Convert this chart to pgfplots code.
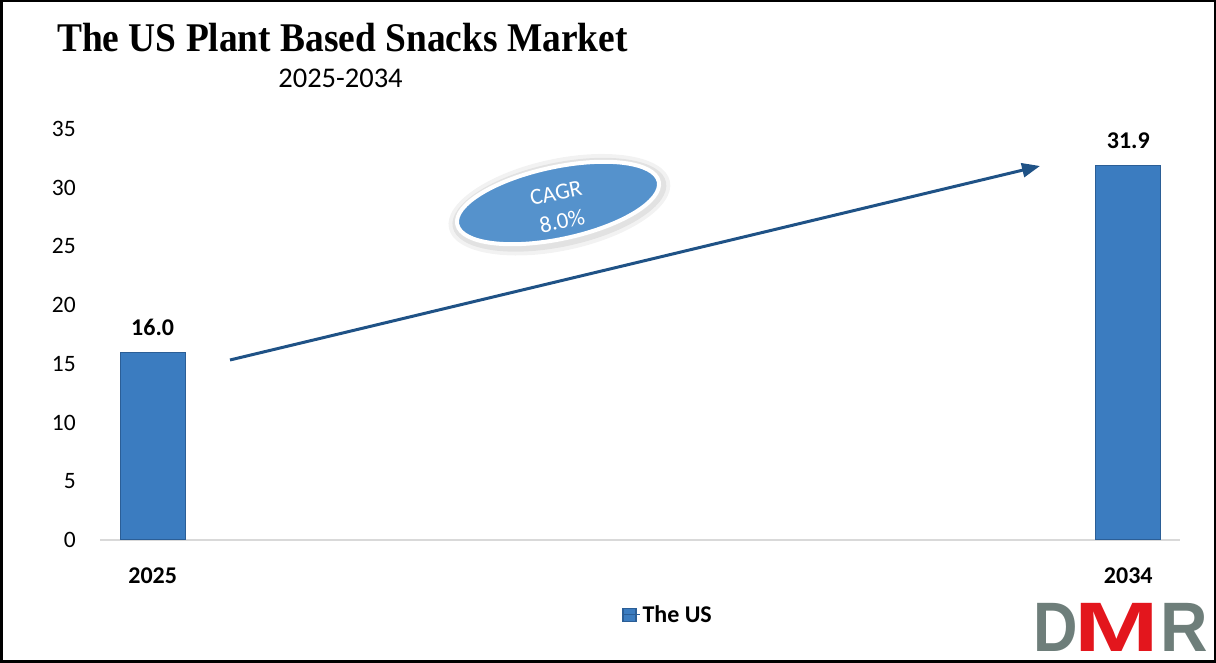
\documentclass[border=0pt]{standalone}
\usepackage{graphicx}
\usepackage{pgfplots}
\pgfplotsset{compat=1.18}
\usetikzlibrary{arrows.meta}
\usepackage{fontspec}
\setmainfont{Carlito}
\newfontfamily\titlefont{Liberation Serif}
\newfontfamily\logofont{Liberation Sans}

\definecolor{barblue}{HTML}{3B7CC0}
\definecolor{bardark}{HTML}{2B5E96}
\definecolor{arrowblue}{HTML}{1F5286}
\definecolor{ovalblue}{HTML}{5592CC}
\definecolor{axisgray}{HTML}{D9D9D9}
\definecolor{logogray}{HTML}{6E7E7A}
\definecolor{logored}{HTML}{E3161D}

\begin{document}
\begin{tikzpicture}[x=1pt,y=1pt]
\useasboundingbox (0,0) rectangle (1216,663);

% baseline of the x axis
\draw[axisgray, line width=1.5pt] (100,123) -- (1180,123);

\begin{axis}[
  at={(100pt,123pt)}, anchor=south west,
  scale only axis, width=1080pt, height=411pt,
  xmin=-0.054, xmax=1.053, ymin=0, ymax=35,
  ybar, bar width=65pt,
  xtick={0,1}, xticklabels={2025,2034},
  ytick={0,5,...,35},
  axis line style={draw=none},
  tick style={draw=none},
  /pgf/number format/assume math mode=true,
  ticklabel style={font=\fontsize{23.5}{28}\selectfont},
  yticklabel style={inner sep=0pt, anchor=east, xshift=-24pt},
  xticklabel style={inner sep=0pt, anchor=north, yshift=-23pt,
    font=\fontsize{24}{28}\selectfont\bfseries},
  nodes near coords,
  nodes near coords style={font=\fontsize{24}{28}\selectfont\bfseries,
    inner sep=0pt, anchor=south, yshift=16pt,
    /pgf/number format/.cd, fixed, precision=1, fixed zerofill},
  legend style={at={(0.526,-0.182)}, anchor=center, draw=none, fill=none,
    font=\fontsize{24}{28}\selectfont\bfseries},
  legend image code/.code={
    \draw[fill=barblue,draw=bardark] (0pt,-6.5pt) rectangle (13pt,6.5pt);
    \path (0pt,0pt) -- (17pt,0pt);},
]
\addplot[fill=barblue, draw=bardark, line width=1.2pt] coordinates {(0,16.0) (1,31.9)};
\legend{The US}
\end{axis}

% growth arrow
\draw[arrowblue, line width=3pt, -{Triangle[length=18pt,width=14pt]}] (230,303) -- (1040,497);

% CAGR oval
\begin{scope}[shift={(558,460)}, rotate=12]
  \fill[gray, opacity=0.10] (1,-2) ellipse (113 and 46);
  \fill[gray, opacity=0.14] (1,-2) ellipse (109 and 42);
  \filldraw[fill=ovalblue, draw=white, line width=4pt] (0,0) ellipse (103 and 36);
\end{scope}
\node[white, rotate=12, inner sep=0pt, font=\fontsize{23}{28}\selectfont] at (556,470) {CAGR};
\node[white, rotate=12, inner sep=0pt, font=\fontsize{23}{28}\selectfont] at (562,442) {8.0\%};

% titles
\node[anchor=base west, inner sep=0pt] at (57,611)
  {\titlefont\bfseries\fontsize{37.4}{40}\selectfont\scalebox{1}[1.09]{The US Plant Based Snacks Market}};
\node[anchor=base, inner sep=0pt] at (340.5,575) {\fontsize{28.5}{32}\selectfont 2025-2034};

% logo
\node[anchor=base west, inner sep=0pt, text=logogray] at (1033,11)
  {\logofont\bfseries\fontsize{70}{70}\selectfont\scalebox{0.88}[1]{D}};
\node[anchor=base west, inner sep=0pt, text=logored] at (1074,11)
  {\logofont\bfseries\fontsize{70}{70}\selectfont\scalebox{1.45}[1]{M}};
\node[anchor=base west, inner sep=0pt, text=logogray] at (1160,11)
  {\logofont\bfseries\fontsize{70}{70}\selectfont\scalebox{0.94}[1]{R}};

% frame
\draw[black, line width=2.5pt] (1.25,1.25) rectangle (1214.75,661.75);
\end{tikzpicture}
\end{document}
